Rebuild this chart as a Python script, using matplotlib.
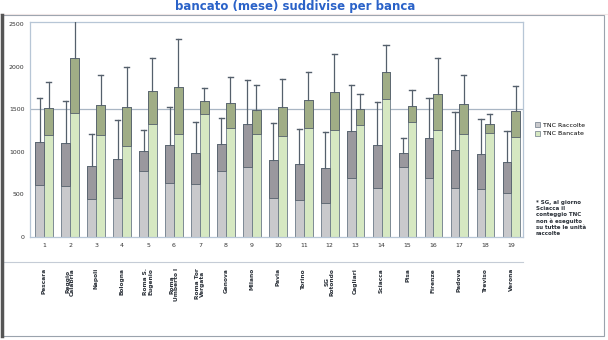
import matplotlib
matplotlib.use("Agg")
import matplotlib.pyplot as plt
from matplotlib.patches import Rectangle
import numpy as np

# Banks (group index 1..19) and their names
groups = list(range(1, 20))
banks = ["Pescara", "Reggio\nCalabria", "Napoli", "Bologna", "Roma S.\nEugenio",
         "Roma\nUmberto I", "Roma Tor\nVergata", "Genova", "Milano", "Pavia",
         "Torino", "SG\nRotondo", "Cagliari", "Sciacca", "Pisa",
         "Firenze", "Padova", "Treviso", "Verona"]

# Mean and standard deviation of TNC per bank
raccolte_mean = [1120, 1100, 830, 915, 1010, 1080, 985, 1090, 1330, 900,
                 855, 812, 1240, 1078, 990, 1160, 1020, 975, 880]
raccolte_sd = [510, 500, 380, 460, 240, 450, 360, 310, 510, 440,
               415, 416, 548, 505, 172, 470, 442, 415, 365]
bancate_mean = [1510, 2100, 1550, 1530, 1710, 1765, 1595, 1575, 1495, 1520,
                1605, 1700, 1500, 1940, 1540, 1675, 1555, 1330, 1475]
bancate_sd = [313, 640, 355, 465, 385, 556, 155, 297, 290, 330,
              330, 445, 182, 318, 190, 420, 347, 108, 300]

series_names = ["TNC Raccolte", "TNC Bancate"]
yticks = [0, 500, 1000, 1500, 2000, 2500]

W, H = 608, 340
fig = plt.figure(figsize=(W / 100, H / 100), dpi=100)
fig.patch.set_facecolor("white")


def fx(px):
    return px / W


def fy(py):
    return 1 - py / H


ax = fig.add_axes([fx(30), fy(237), fx(523) - fx(30), fy(22) - fy(237)])
ax.set_xlim(0.45, 19.45)
ax.set_ylim(0, 2523)

bw = 0.34
edge = "#6c7a88"
styles = [
    dict(face="#c9c9cc", dark="#9a989e"),
    dict(face="#d6e8c2", dark="#a0ad86"),
]
x = np.array(groups, dtype=float)
for k, (means, sds) in enumerate([(raccolte_mean, raccolte_sd),
                                  (bancate_mean, bancate_sd)]):
    xs = x + (k - 0.5) * bw
    st = styles[k]
    ax.bar(xs, means, width=bw, color=st["face"], edgecolor=edge,
           linewidth=0.6, zorder=2)
    for xi, m, s in zip(xs, means, sds):
        lo = max(m - s, 0)
        ax.add_patch(Rectangle((xi - bw / 2, lo), bw, m - lo,
                               facecolor=st["dark"], edgecolor="#55606c",
                               linewidth=0.6, zorder=3))
        ax.plot([xi, xi], [m, m + s], color="#55606c", lw=0.9, zorder=4,
                clip_on=True)
        if m + s < 2523:
            ax.plot([xi - 0.1, xi + 0.1], [m + s, m + s], color="#55606c",
                    lw=1.0, zorder=4)

# reference line
ax.axhline(1500, color="#a9b6c4", lw=0.9, zorder=1)

ax.set_yticks(yticks)
ax.set_yticklabels([str(v) for v in yticks], fontsize=4.5, color="#333333")
ax.set_xticks(groups)
ax.set_xticklabels([str(g) for g in groups], fontsize=4.5, color="#333333")
ax.tick_params(axis="both", length=0, pad=4)
for sp in ax.spines.values():
    sp.set_color("#b7c6d6")
    sp.set_linewidth(0.9)

# bank names below the axis
for g, name in zip(groups, banks):
    xd = ax.transData.transform((g, 0))[0]
    fig.text(xd / fig.dpi / fig.get_figwidth(), fy(268), name, rotation=90,
             ha="center", va="top", fontsize=4.2, color="#2a3038",
             fontweight="bold", linespacing=1.0)

# separator under the tick numbers
fig.add_artist(plt.Line2D([fx(4), fx(523)], [fy(262), fy(262)],
                          color="#c5ccd6", lw=0.8))

# legend
handles = [Rectangle((0, 0), 1, 1, facecolor=styles[i]["face"],
                     edgecolor=edge, linewidth=0.5) for i in range(2)]
fig.legend(handles, series_names, loc="upper left",
           bbox_to_anchor=(fx(532), fy(119)), frameon=False, fontsize=4.5,
           handlelength=0.8, handleheight=0.8, handletextpad=0.4,
           labelspacing=0.5, borderpad=0)

# note on the right
fig.text(fx(536), fy(200), "* SG, al giorno\nSciacca il\nconteggio TNC\n"
         "non è eseguito\nsu tutte le unità\nraccolte",
         ha="left", va="top", fontsize=4.0, fontweight="bold",
         color="#2a3038", linespacing=1.25)

# title at the very top
fig.text(0.485, fy(10), "bancato (mese) suddivise per banca", ha="center",
         va="baseline", fontsize=8.5, fontweight="bold", color="#2a62c8")
fig.add_artist(plt.Line2D([0, 1], [fy(14), fy(14)], color="#efe6e6", lw=0.8))

# outer frame
fig.add_artist(plt.Line2D([fx(1.5), fx(1.5)], [fy(15), fy(336)],
                          color="#555555", lw=2.5))
fig.add_artist(Rectangle((fx(2), fy(336)), fx(604) - fx(2), fy(15) - fy(336),
                         transform=fig.transFigure, fill=False,
                         edgecolor="#9aa3ad", lw=0.8))

fig.savefig("out.png", dpi=100, facecolor="white")
